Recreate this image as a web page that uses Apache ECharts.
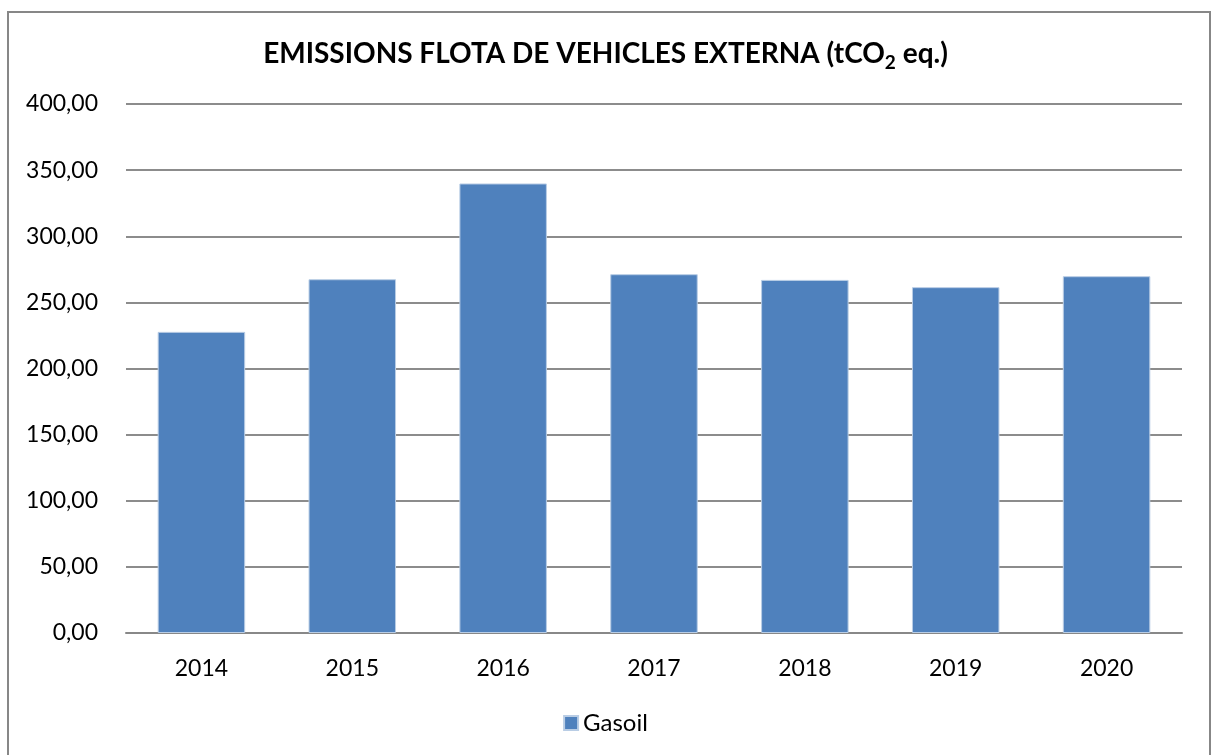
<!DOCTYPE html>
<html><head><meta charset="utf-8">
<script src="https://cdn.jsdelivr.net/npm/echarts@6/dist/echarts.min.js"></script>
<style>html,body{margin:0;padding:0;background:#fff}#c{width:1211px;height:755px}</style>
</head><body><div id="c"></div>
<script>
const categories = ['2014','2015','2016','2017','2018','2019','2020'];
const gasoil = [227.7, 267.5, 339.9, 271.3, 267.0, 261.5, 269.8];
const yTicks = [0, 50, 100, 150, 200, 250, 300, 350, 400];
const seriesName = 'Gasoil';

const chart = echarts.init(document.getElementById('c'), null, {renderer:'canvas'});
const FONT = 'Lato';
chart.setOption({
  animation: false,
  backgroundColor: '#fff',
  graphic: [{
    type: 'rect', shape: {x: 8, y: 12, width: 1202, height: 770},
    style: {fill: 'none', stroke: '#878787', lineWidth: 2}, silent: true, z: -1
  }],
  title: {
    text: '{a|EMISSIONS FLOTA DE VEHICLES EXTERNA (tCO}{s|2}{a| eq.)}',
    left: 'center', top: 31,
    textStyle: {
      rich: {
        a: {fontFamily: FONT, fontWeight: 'bold', fontSize: 28, color: '#000', lineHeight: 36},
        s: {fontFamily: FONT, fontWeight: 'bold', fontSize: 19, color: '#000', lineHeight: 19, padding: [17,0,0,0], verticalAlign: 'bottom'}
      }
    }
  },
  legend: {
    data: [seriesName], bottom: 15, left: 'center', itemWidth: 14, itemHeight: 14, itemGap: 6,
    icon: 'rect', textStyle: {fontFamily: FONT, fontSize: 24, color: '#000'}
  },
  grid: {left: 126, right: 29, top: 104, bottom: 122, containLabel: false},
  xAxis: {
    type: 'category', data: categories,
    axisLine: {lineStyle: {color: '#888', width: 2}},
    axisTick: {show: false},
    axisLabel: {fontFamily: FONT, fontSize: 23, color: '#000', margin: 24}
  },
  yAxis: {
    type: 'value', min: yTicks[0], max: yTicks[yTicks.length-1], interval: 50,
    axisLine: {show: false}, axisTick: {show: false},
    splitLine: {lineStyle: {color: '#8c8c8c', width: 2}},
    axisLabel: {fontFamily: FONT, fontSize: 23, color: '#000', margin: 28,
      formatter: v => v.toFixed(2).replace('.', ',')}
  },
  series: [{
    name: seriesName, type: 'bar', data: gasoil, barWidth: '58%', barGap: 0,
    itemStyle: {color: '#4F81BD', borderColor: '#B9CDE5', borderWidth: 1}
  }]
});
</script></body></html>
